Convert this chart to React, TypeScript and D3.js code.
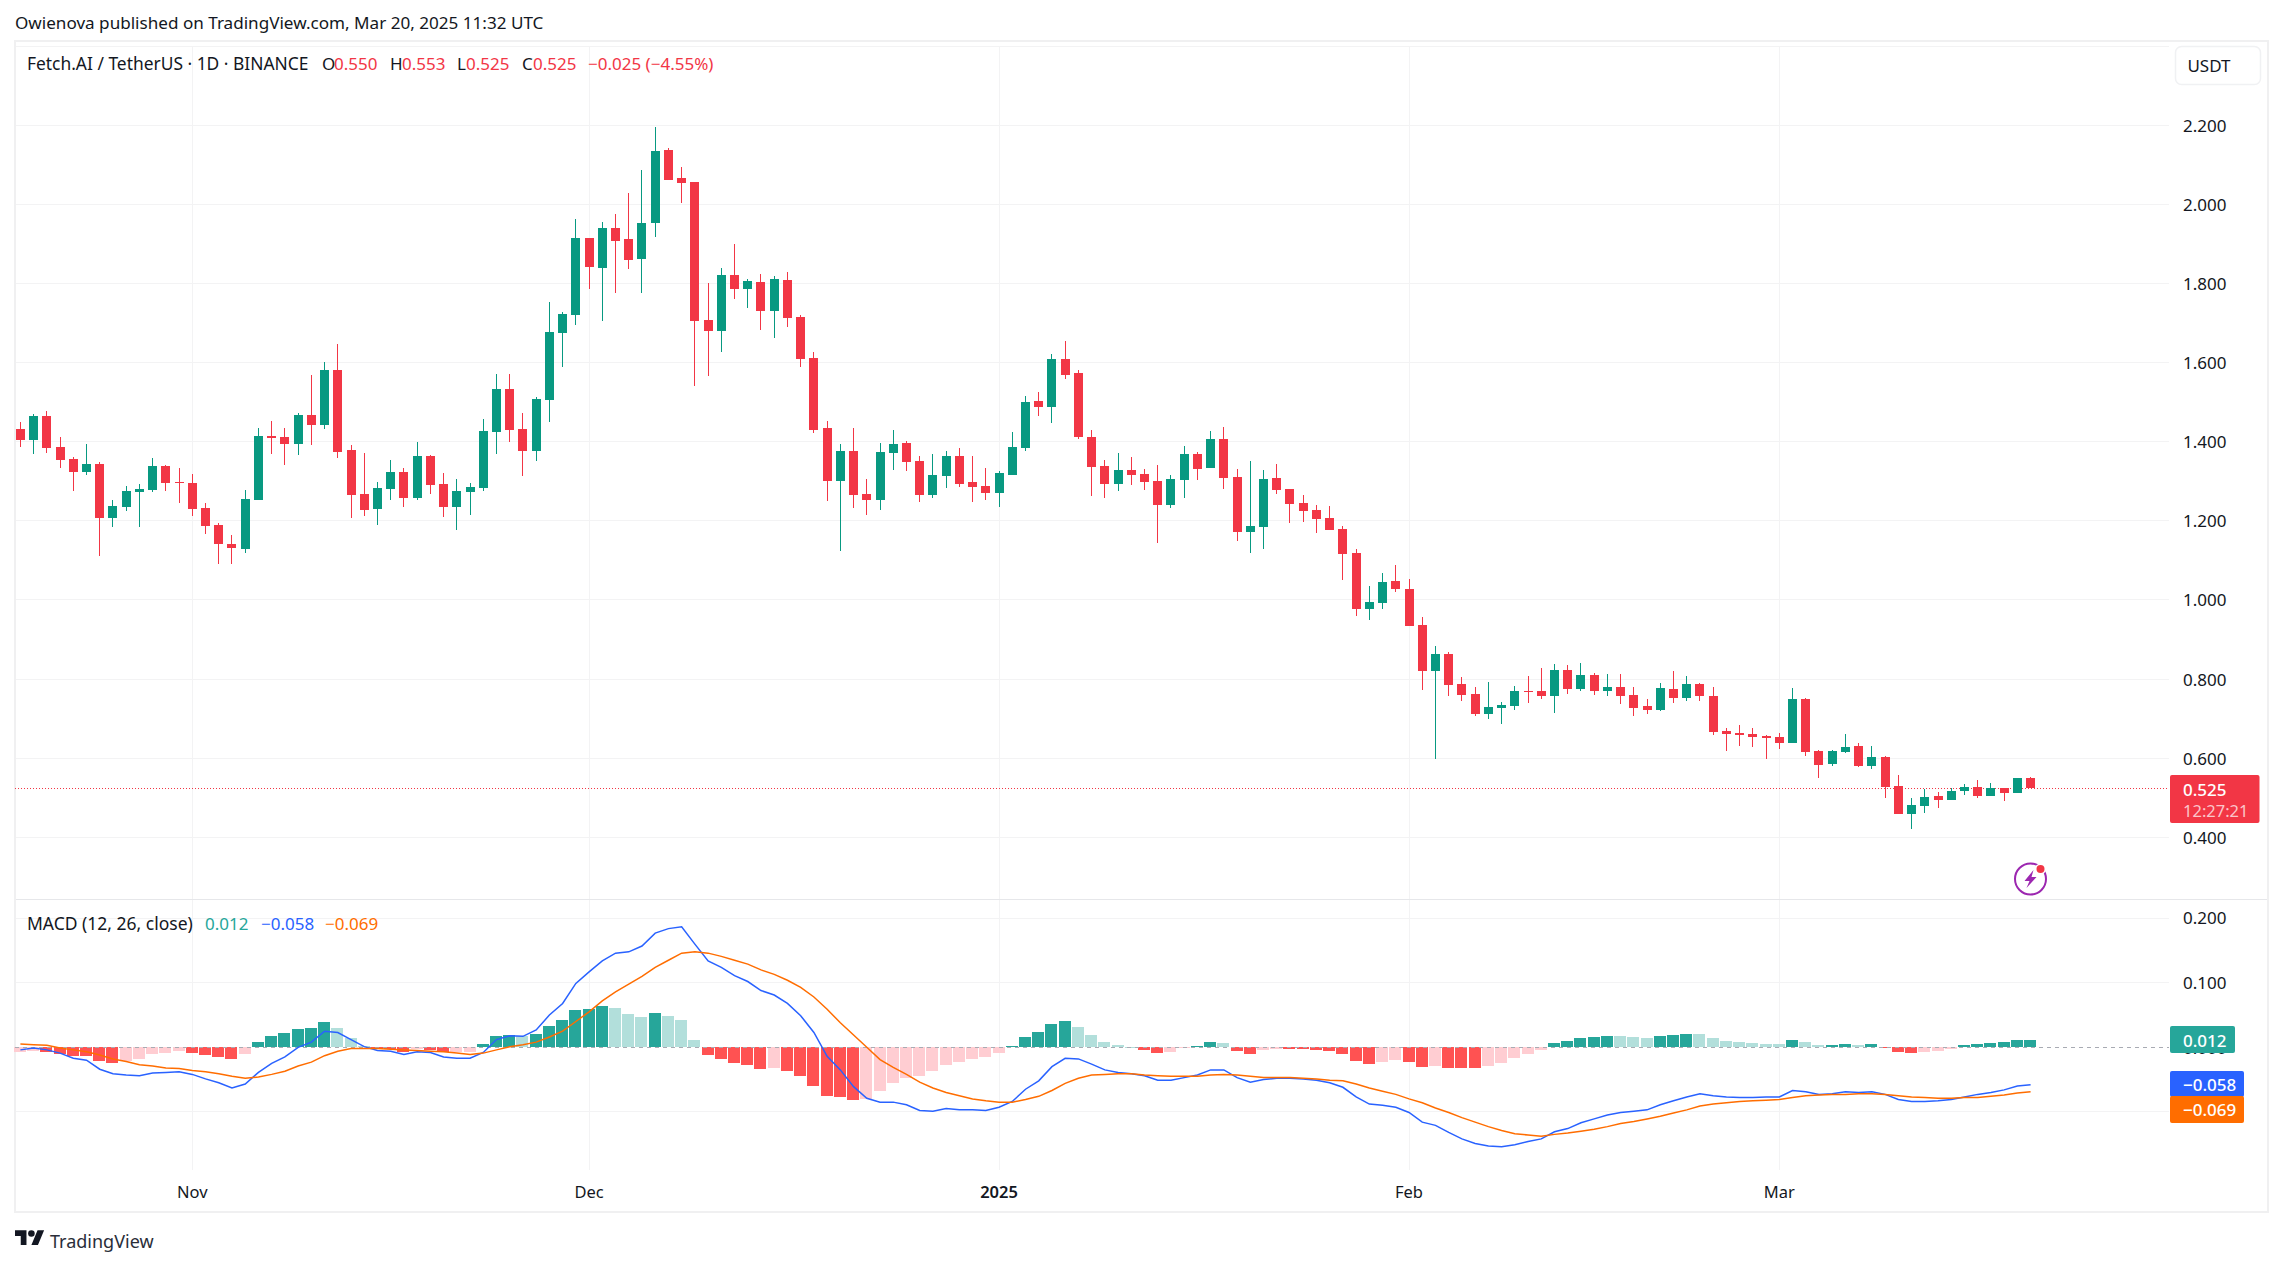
import React from "react";
import * as d3 from "d3";

const highs = [1.450,1.470,1.478,1.412,1.361,1.394,1.349,1.253,1.288,1.293,1.359,1.341,1.334,1.318,1.245,1.195,1.164,1.278,1.435,1.453,1.435,1.473,1.569,1.602,1.647,1.392,1.372,1.298,1.354,1.334,1.399,1.366,1.321,1.306,1.296,
1.457,1.571,1.571,1.472,1.513,1.753,1.728,1.963,1.915,1.955,1.976,2.029,2.087,2.196,2.143,2.095,2.057,1.801,1.839,1.900,1.811,1.824,1.819,1.829,1.720,1.627,1.452,1.394,1.434,1.305,
1.397,1.430,1.402,1.364,1.369,1.377,1.384,1.364,1.334,1.326,1.425,1.516,1.526,1.622,1.655,1.581,1.430,1.354,1.371,1.361,1.331,1.341,1.316,1.389,1.374,1.427,1.437,1.331,1.351,1.328,1.344,1.280,1.265,1.240,1.237,1.187,1.129,
1.035,1.068,1.088,1.053,0.957,0.884,0.868,0.805,0.780,0.792,0.742,0.782,0.808,0.828,0.838,0.835,0.840,0.815,0.813,0.813,0.780,0.749,0.790,0.820,0.808,0.790,0.780,
0.676,0.684,0.676,0.659,0.664,0.778,0.752,0.621,0.621,0.661,0.638,0.631,0.606,0.558,0.499,0.522,0.514,0.525,0.535,0.545,0.537,0.525,0.550,0.553];

const lows = [1.387,1.369,1.372,1.334,1.275,1.316,1.111,1.184,1.225,1.184,1.273,1.275,1.245,1.212,1.167,1.091,1.091,1.119,1.253,1.369,1.341,1.366,1.392,1.432,1.359,1.207,1.212,1.189,1.253,1.235,1.253,1.268,1.210,1.177,1.215,
1.275,1.369,1.399,1.313,1.351,1.450,1.589,1.695,1.786,1.705,1.776,1.837,1.776,1.917,2.062,2.004,1.541,1.566,1.627,1.761,1.738,1.682,1.662,1.690,1.589,1.422,1.250,1.123,1.232,1.214,
1.227,1.328,1.326,1.248,1.258,1.283,1.286,1.248,1.253,1.235,1.316,1.377,1.465,1.447,1.559,1.407,1.263,1.258,1.275,1.291,1.278,1.144,1.232,1.258,1.303,1.334,1.280,1.149,1.119,1.129,1.268,1.194,1.197,1.169,1.177,1.050,0.959,
0.949,0.977,1.020,0.934,0.772,0.598,0.757,0.744,0.707,0.699,0.686,0.722,0.739,0.749,0.714,0.762,0.770,0.760,0.757,0.737,0.707,0.712,0.719,0.739,0.744,0.744,0.658,
0.618,0.631,0.628,0.598,0.623,0.638,0.606,0.550,0.580,0.613,0.578,0.573,0.499,0.459,0.421,0.461,0.474,0.494,0.507,0.499,0.504,0.492,0.512,0.525];

const opens = [1.432,1.404,1.465,1.387,1.356,1.324,1.344,1.207,1.235,1.273,1.278,1.339,1.298,1.296,1.232,1.189,1.141,1.129,1.253,1.415,1.412,1.394,1.468,1.442,1.581,1.379,1.268,1.230,1.281,1.324,1.258,1.364,1.293,1.235,1.273,
1.283,1.424,1.533,1.432,1.376,1.505,1.675,1.720,1.915,1.839,1.940,1.912,1.862,1.953,2.138,2.067,2.057,1.708,1.680,1.821,1.786,1.804,1.730,1.809,1.715,1.611,1.434,1.300,1.376,1.268,
1.253,1.371,1.397,1.351,1.265,1.313,1.364,1.298,1.288,1.270,1.316,1.384,1.503,1.488,1.609,1.574,1.412,1.339,1.293,1.328,1.318,1.301,1.240,1.303,1.369,1.334,1.407,1.311,1.172,1.184,1.308,1.280,1.245,1.227,1.207,1.179,1.119,
0.977,0.992,1.048,1.028,0.937,0.820,0.863,0.787,0.762,0.712,0.727,0.732,0.770,0.770,0.757,0.823,0.775,0.810,0.770,0.780,0.760,0.732,0.722,0.775,0.752,0.787,0.757,
0.669,0.664,0.661,0.656,0.654,0.638,0.750,0.618,0.585,0.616,0.631,0.580,0.603,0.530,0.459,0.479,0.504,0.494,0.517,0.527,0.504,0.525,0.512,0.550];

const closes = [1.404,1.465,1.384,1.354,1.324,1.344,1.207,1.238,1.275,1.281,1.339,1.296,1.296,1.230,1.187,1.141,1.131,1.255,1.415,1.410,1.394,1.468,1.442,1.581,1.374,1.265,1.227,1.283,1.324,1.258,1.364,1.291,1.235,1.275,1.286,
1.427,1.533,1.429,1.376,1.508,1.677,1.723,1.915,1.842,1.940,1.907,1.859,1.953,2.135,2.062,2.054,1.705,1.680,1.821,1.786,1.806,1.730,1.811,1.713,1.609,1.429,1.300,1.376,1.265,1.252,
1.374,1.394,1.349,1.265,1.316,1.364,1.293,1.286,1.270,1.321,1.387,1.500,1.488,1.609,1.569,1.412,1.336,1.293,1.328,1.316,1.298,1.240,1.306,1.369,1.331,1.407,1.308,1.172,1.187,1.306,1.278,1.243,1.225,1.205,1.177,1.116,0.977,
0.995,1.045,1.028,0.934,0.820,0.863,0.785,0.760,0.712,0.729,0.734,0.770,0.767,0.757,0.823,0.775,0.810,0.770,0.780,0.757,0.727,0.722,0.777,0.752,0.787,0.757,0.666,
0.661,0.659,0.654,0.651,0.638,0.750,0.616,0.583,0.618,0.628,0.580,0.603,0.527,0.459,0.482,0.502,0.494,0.517,0.527,0.504,0.525,0.512,0.550,0.525];

const histogram = [-.008,-.005,-.007,-.010,-.013,-.013,-.021,-.024,-.021,-.018,-.010,-.009,-.006,-.009,-.012,-.015,-.018,-.010,.008,.018,.022,.028,.030,.039,.030,.014,.002,-.002,-.003,-.007,-.003,-.004,-.007,-.007,-.007,.005,.018,.019,.018,.021,.033,
.042,.058,.059,.064,.061,.052,.047,.053,.049,.042,.011,-.012,-.018,-.024,-.027,-.034,-.032,-.037,-.044,-.060,-.075,-.077,-.082,-.080,-.068,-.055,-.048,-.044,-.037,-.027,-.023,-.018,-.015,-.009,.002,.016,.024,.036,.041,.032,.019,.008,.004,
.001,-.004,-.009,-.007,-.001,.002,.008,.007,-.006,-.010,-.004,-.003,-.003,-.003,-.004,-.006,-.010,-.021,-.026,-.023,-.020,-.023,-.030,-.029,-.032,-.032,-.032,-.029,-.024,-.016,-.010,-.004,.007,.010,.014,.016,.018,.018,.016,.014,.018,.019,
.021,.021,.014,.010,.008,.007,.005,.005,.011,.008,.004,.004,.005,.004,.005,-.001,-.007,-.009,-.007,-.006,-.003,.004,.005,.007,.008,.011,.012];

// s = strong shade, p = pale shade, one letter per day
const histogramShade = [
  "pp", "ssssss", "ppppp", "ssss", "p", "ssssss", "ppp", "sss", "p", "ss", "pp", "sss", "p",
  "ssssss", "ppp", "s", "ppp", "sssss", "p", "ssssss", "ppppppppppp", "sssss", "ppppp", "ss",
  "pp", "ss", "p", "ss", "pp", "sssssss", "pp", "ss", "p", "sss", "ppppp", "sssss", "ppp", "sss",
  "ppppppp", "s", "pp", "ss", "p", "ssss", "ppp", "ssssss",
].join("");

const macdLine = [-.004,-.001,-.004,-.009,-.017,-.020,-.034,-.041,-.043,-.044,-.040,-.039,-.038,-.042,-.049,-.055,-.063,-.057,-.039,-.025,-.015,0,.008,.025,.023,.012,.001,-.005,-.006,-.011,-.007,-.008,-.015,-.017,-.017,-.008,.012,.018,.017,.027,.050,
.068,.099,.117,.134,.146,.148,.157,.177,.184,.187,.160,.134,.124,.111,.102,.088,.081,.068,.049,.023,-.014,-.035,-.061,-.079,-.085,-.085,-.089,-.098,-.099,-.095,-.097,-.097,-.098,-.093,-.084,-.065,-.052,-.030,-.017,-.018,-.026,-.035,-.039,
-.041,-.044,-.051,-.051,-.047,-.043,-.035,-.035,-.047,-.054,-.050,-.048,-.048,-.049,-.051,-.055,-.062,-.077,-.088,-.090,-.093,-.101,-.116,-.121,-.132,-.142,-.149,-.153,-.154,-.151,-.146,-.142,-.131,-.126,-.117,-.111,-.105,-.101,-.099,-.097,-.089,-.083,
-.077,-.072,-.075,-.077,-.078,-.078,-.077,-.077,-.067,-.069,-.073,-.072,-.069,-.070,-.069,-.073,-.081,-.084,-.084,-.083,-.081,-.077,-.073,-.070,-.066,-.060,-.058];

const signalLine = [.005,.004,.003,-.001,-.004,-.007,-.012,-.018,-.022,-.027,-.029,-.032,-.033,-.036,-.038,-.041,-.045,-.048,-.046,-.042,-.037,-.029,-.023,-.013,-.006,-.002,-.002,-.002,-.003,-.004,-.005,-.006,-.007,-.009,-.011,-.009,-.004,.001,.004,.008,.016,
.025,.040,.055,.072,.086,.098,.110,.124,.135,.146,.148,.146,.141,.135,.129,.120,.113,.104,.093,.078,.059,.038,.019,0,-.019,-.031,-.042,-.054,-.063,-.070,-.075,-.080,-.083,-.085,-.085,-.081,-.076,-.067,-.056,-.048,-.043,-.042,-.041,
-.041,-.043,-.044,-.045,-.045,-.045,-.043,-.042,-.043,-.045,-.047,-.047,-.047,-.048,-.049,-.051,-.052,-.057,-.063,-.068,-.073,-.080,-.086,-.094,-.101,-.109,-.116,-.123,-.129,-.134,-.136,-.138,-.135,-.133,-.130,-.127,-.123,-.118,-.115,-.111,-.107,-.102,
-.097,-.091,-.088,-.086,-.084,-.083,-.082,-.081,-.078,-.075,-.074,-.073,-.073,-.072,-.072,-.073,-.075,-.077,-.078,-.079,-.079,-.078,-.078,-.076,-.074,-.071,-.069];

const priceTicks = [2.2, 2.0, 1.8, 1.6, 1.4, 1.2, 1.0, 0.8, 0.6, 0.4];
const macdTicks = [0.2, 0.1, 0, -0.1];
const macdLabelTicks = [0.2, 0.1, 0];
const monthLabels = ["Nov", "Dec", "2025", "Feb", "Mar"];
const monthIndex = [13, 43, 74, 105, 133];
const lastPrice = 0.525;

const UP = "#089981";
const DOWN = "#f23645";
const GRID = "#f3f3f4";
const INK = "#131722";
const FONT = "'Noto Sans', sans-serif";

const x = d3.scaleLinear().domain([0, 152]).range([20.4, 2030.6]);
const py = d3.scaleLinear().domain([0.4, 2.2]).range([837.3, 125.3]);
const my = d3.scaleLinear().domain([-0.1, 0.2]).range([1111.8, 918.3]);
const fmt = d3.format(".3f");
const fmtMinus = (v: number) => fmt(v).replace("-", "\u2212");

const macdPath = d3.line<number>().x((_, i) => x(i)).y((d) => my(d));

function T(props: any) {
  return <text fontFamily={FONT} fontSize={17} fill={INK} dominantBaseline="central" {...props} />;
}

export default function App() {
  const yHist0 = Math.round(my(0));
  return (
    <svg width={2283} height={1265} viewBox="0 0 2283 1265" style={{ position: "absolute", left: 0, top: 0, background: "#fff" }}>
      <T x={15} y={22} fontSize={17.1}>Owienova published on TradingView.com, Mar 20, 2025 11:32 UTC</T>

      <g shapeRendering="crispEdges">
        {priceTicks.map((t) => (
          <line key={t} x1={15} x2={2169} y1={Math.floor(py(t)) + 0.5} y2={Math.floor(py(t)) + 0.5} stroke={GRID} />
        ))}
        {macdTicks.map((t) => (
          <line key={t} x1={15} x2={2169} y1={Math.floor(my(t)) + 0.5} y2={Math.floor(my(t)) + 0.5} stroke={t === 0 ? "none" : GRID} />
        ))}
        {monthIndex.map((i) => (
          <line key={i} x1={Math.floor(x(i)) + 0.5} x2={Math.floor(x(i)) + 0.5} y1={46} y2={1170} stroke={GRID} />
        ))}
        <line x1={15} x2={2169} y1={46.5} y2={46.5} stroke={GRID} />
        <line x1={15} x2={2268} y1={899.5} y2={899.5} stroke="#e6e7ea" />
        <rect x={15} y={41} width={2253} height={1171} fill="none" stroke="#f0f0f1" strokeWidth={2} />
      </g>

      <line x1={15} x2={2169} y1={788.5} y2={788.5} stroke={DOWN} strokeDasharray="1 2" />

      <g shapeRendering="crispEdges">
        {opens.map((o, i) => {
          const c = closes[i];
          const col = c >= o ? UP : DOWN;
          const xi = Math.floor(x(i));
          const top = Math.round(py(Math.max(o, c)));
          const bot = Math.round(py(Math.min(o, c)));
          return (
            <g key={i}>
              <rect x={xi} width={1} y={py(highs[i])} height={py(lows[i]) - py(highs[i])} fill={col} />
              <rect x={xi - 4} width={9} y={top} height={Math.max(bot - top, 1)} fill={col} />
            </g>
          );
        })}
      </g>

      <g shapeRendering="crispEdges">
        {histogram.map((v, i) => {
          const strong = histogramShade[i] !== "p";
          const col = v >= 0 ? (strong ? "#26a69a" : "#b2dfdb") : strong ? "#ff5252" : "#ffcdd2";
          const y = Math.round(my(v));
          const xi = Math.floor(x(i));
          return (
            <rect key={i} x={xi - 6} width={12} y={Math.min(y, yHist0)} height={Math.max(Math.abs(y - yHist0), 1)} fill={col} />
          );
        })}
        <line x1={15} x2={2169} y1={yHist0 + 0.5} y2={yHist0 + 0.5} stroke="#a8abb3" strokeDasharray="4 4" />
      </g>

      <path d={macdPath(macdLine) ?? ""} fill="none" stroke="#2962ff" strokeWidth={1.5} />
      <path d={macdPath(signalLine) ?? ""} fill="none" stroke="#ff6d00" strokeWidth={1.5} />

      {/* price legend */}
      <T x={27} y={63} fontSize={17.4}>Fetch.AI / TetherUS · 1D · BINANCE</T>
      <T x={322} y={63}>O</T>
      <T x={334} y={63} fill={DOWN}>0.550</T>
      <T x={390} y={63}>H</T>
      <T x={402} y={63} fill={DOWN}>0.553</T>
      <T x={457} y={63}>L</T>
      <T x={466} y={63} fill={DOWN}>0.525</T>
      <T x={522} y={63}>C</T>
      <T x={533} y={63} fill={DOWN}>0.525</T>
      <T x={588} y={63} fill={DOWN}>−0.025 (−4.55%)</T>

      {/* macd legend */}
      <T x={27} y={923} fontSize={17.5}>MACD (12, 26, close)</T>
      <T x={205} y={923} fill="#26a69a">0.012</T>
      <T x={261} y={923} fill="#2962ff">−0.058</T>
      <T x={325} y={923} fill="#ff6d00">−0.069</T>

      {/* right axes */}
      {priceTicks.map((t) => (
        <T key={t} x={2183} y={py(t)}>{fmt(t)}</T>
      ))}
      {macdLabelTicks.map((t) => (
        <T key={t} x={2183} y={my(t) - (t === 0.2 ? 1 : 0)}>{fmtMinus(t)}</T>
      ))}

      <rect x={2175.5} y={46.5} width={85} height={38} rx={6} fill="#fff" stroke="#f0f1f3" strokeWidth={1.5} />
      <T x={2209} y={65} textAnchor="middle">USDT</T>

      <rect x={2170} y={775} width={89.5} height={48} rx={2} fill={DOWN} />
      <T x={2183} y={789} fill="#fff" fontWeight={500}>{fmt(lastPrice)}</T>
      <T x={2183} y={810} fontSize={16.5} fill="#fff" fillOpacity={0.72}>12:27:21</T>

      <rect x={2170} y={1026} width={65} height={27} rx={2} fill="#26a69a" />
      <T x={2183} y={1040} fill="#fff" fontWeight={500}>{fmtMinus(histogram[histogram.length - 1])}</T>
      <rect x={2170} y={1071} width={74} height={26} rx={2} fill="#2962ff" />
      <T x={2183} y={1084} fill="#fff" fontWeight={500}>{fmtMinus(macdLine[macdLine.length - 1])}</T>
      <rect x={2170} y={1096} width={74} height={27} rx={2} fill="#ff6d00" />
      <T x={2183} y={1109} fill="#fff" fontWeight={500}>{fmtMinus(signalLine[signalLine.length - 1])}</T>

      {/* time axis */}
      {monthLabels.map((m, k) => (
        <T key={m} x={x(monthIndex[k])} y={1191} textAnchor="middle" fontSize={16.5} fontWeight={m === "2025" ? 600 : 400}>{m}</T>
      ))}

      {/* lightning badge */}
      <g transform="translate(2030.5 879)">
        <circle r={15.5} fill="#fff" stroke="#9c27b0" strokeWidth={2} />
        <path d="M3 -9 L-6 2 L-1 2 L-4 9 L6 -2 L1 -2 Z" fill="#9c27b0" />
        <circle cx={10} cy={-10} r={5.5} fill="#fff" />
        <circle cx={10} cy={-10} r={4} fill={DOWN} />
      </g>

      {/* logo */}
      <g transform="translate(15 1227) scale(0.82)" fill={INK}>
        <path d="M14 22H7V11H0V4h14v18zM28 22h-8l7.5-18h8L28 22z" />
        <circle cx={20} cy={8} r={4} />
      </g>
      <T x={50} y={1241} fontSize={18} fill="#2a2e39">TradingView</T>
    </svg>
  );
}
